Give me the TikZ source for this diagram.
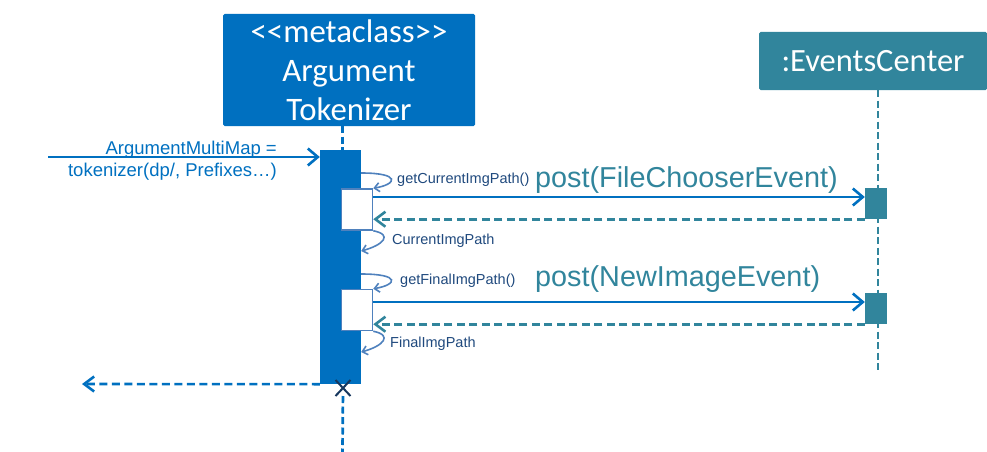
\documentclass[tikz,border=0pt]{standalone}
\usepackage{fontspec}
\setmainfont{Carlito}
\newfontfamily\arialfont{Liberation Sans}
\usetikzlibrary{arrows.meta, shapes.misc, backgrounds, positioning}
\definecolor{tokblue}{HTML}{0070C0}
\definecolor{evteal}{HTML}{31859C}
\definecolor{selfblue}{HTML}{4F81BD}
\definecolor{labelnavy}{HTML}{1F497D}
\definecolor{xnavy}{HTML}{17375E}

\begin{document}
\begin{tikzpicture}[x=1pt, y=-1pt,
    header/.style={rounded corners=1.5pt, inner sep=0pt, text=white, align=center},
    actbar/.style={fill=tokblue, inner sep=0pt, minimum width=41pt, minimum height=234pt},
    subact/.style={draw=selfblue, line width=1.5pt, fill=white, inner sep=0pt, minimum width=31pt, minimum height=41pt},
    evact/.style={fill=evteal, inner sep=0pt, minimum width=22pt, minimum height=31pt},
    lifeline/.style={line width=2.7pt, dash pattern=on 7pt off 3.5pt},
    call/.style={tokblue, line width=2.6pt, -{Straight Barb[length=10pt,width=17pt]}},
    reply/.style={line width=2.6pt, dash pattern=on 8pt off 4.5pt, -{Straight Barb[length=10pt,width=15pt]}},
    selfcall/.style={selfblue, line width=1.6pt, -{Straight Barb[length=5pt,width=9pt]}},
    msg/.style={font=\arialfont\fontsize{14.5}{16}\selectfont, text=labelnavy, inner sep=0pt, anchor=base west},
    postlabel/.style={font=\arialfont\fontsize{28.8}{32}\selectfont, text=evteal, inner sep=0pt, anchor=base west}]
    \useasboundingbox (0,0) rectangle (987,452);
    \node[header, fill=tokblue, minimum width=252pt, minimum height=112pt, font=\fontsize{32.8}{39}\selectfont] (tok) at (349,70) {<\kern0pt<metaclass>\kern0pt>\\Argument\\Tokenizer};
    \node[header, fill=evteal, minimum width=228pt, minimum height=58pt, font=\fontsize{32.5}{36}\selectfont] (ec) at (873,61) {:EventsCenter};
    \node[actbar] (act) at (340.5,267) {};
    \node[subact] (b1) at (357,209.5) {};
    \node[subact] (b2) at (357,310) {};
    \node[evact] (r1) at (876,203.5) {};
    \node[evact] (r2) at (876,308.5) {};
    \coordinate (caller) at (48,157);
    \coordinate (back) at (82,384);
    \coordinate (tokend) at (342.5,452);
    \coordinate (ecend) at (878,372);
    \node[cross out, draw=xnavy, line width=2pt, minimum width=13pt, minimum height=14pt, inner sep=0pt] (kill) at (343,388) {};
    \begin{pgfonlayer}{background}
        \draw[lifeline, tokblue] (tok.south -| tokend) -- (act.north -| tokend);
        \draw[lifeline, tokblue] (kill) -- (tokend);
        \draw[lifeline, evteal] (ec.south -| ecend) -- (ecend);
    \end{pgfonlayer}
    \draw[call] (caller) -- (act.west |- caller);
    \node[font=\arialfont\fontsize{18.5}{22}\selectfont, text=tokblue, align=right, anchor=east, inner sep=0pt] (args) at (277,161) {ArgumentMultiMap =\\tokenizer(dp/, Prefixes…)};
    \draw[selfcall] (act.east |- 0,173) .. controls +(40,0) and +(24,-4) .. (b1.north east);
    \node[msg] (getcur) at (397,183) {getCurrentImgPath()};
    \node[postlabel] (post1) at (535,187) {post(FileChooserEvent)};
    \draw[call] (b1.east |- 0,197) -- (r1.west |- 0,197);
    \draw[reply, evteal] (r1.south west) -- (b1.east |- r1.south west);
    \draw[selfcall] (b1.south east) .. controls +(20,4) and +(22,-6) .. (act.east |- 0,251);
    \node[msg] (curpath) at (392,244) {CurrentImgPath};
    \draw[selfcall] (act.east |- 0,274) .. controls +(40,0) and +(24,-4) .. (b2.north east);
    \node[msg] (getfin) at (400,284) {getFinalImgPath()};
    \node[postlabel] (post2) at (535,286) {post(NewImageEvent)};
    \draw[call] (b2.east |- 0,302) -- (r2.west |- 0,302);
    \draw[reply, evteal] (r2.south west) -- (b2.east |- r2.south west);
    \draw[selfcall] (b2.south east) .. controls +(20,4) and +(22,-6) .. (act.east |- 0,352);
    \node[msg] (finpath) at (390,347) {FinalImgPath};
    \draw[reply, tokblue] (act.south west) -- (back);
\end{tikzpicture}
\end{document}
